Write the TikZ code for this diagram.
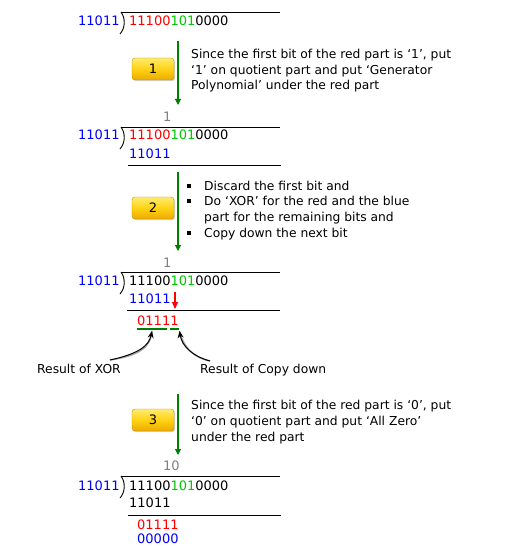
\documentclass[tikz,border=0pt]{standalone}
\usepackage{fontspec}
\setmainfont{DejaVu Sans}
\usetikzlibrary{arrows.meta,shadows}
\definecolor{bblue}{RGB}{0,0,255}
\definecolor{rred}{RGB}{255,0,0}
\definecolor{dgreen}{RGB}{0,200,0}
\definecolor{agreen}{RGB}{0,128,0}
\definecolor{qgray}{RGB}{128,128,128}
\definecolor{btop}{RGB}{255,236,110}
\definecolor{bmid}{RGB}{255,210,20}
\definecolor{bbot}{RGB}{235,170,0}
\definecolor{bborder}{RGB}{190,140,0}
\newcommand{\dvdA}{\textcolor{rred}{11100}\textcolor{dgreen}{101}0000}
\newcommand{\dvdB}{11100\textcolor{dgreen}{101}0000}
\newcommand{\sqbul}{\llap{\raisebox{2.5pt}{\rule{4pt}{4pt}}\hspace{13pt}}}
\begin{document}
\begin{tikzpicture}[x=1pt,y=-1pt,
  font=\fontsize{13}{15.6}\selectfont,
  num/.style={anchor=base west,inner sep=0pt},
  txt/.style={anchor=base west,inner sep=0pt,align=left,font=\fontsize{12.3}{15.6}\selectfont},
  rule/.style={line width=0.9pt},
  garrow/.style={agreen,line width=1.1pt,-{Triangle[width=6pt,length=6pt]}},
  rarrow/.style={rred,line width=1.1pt,-{Triangle[width=6pt,length=7pt]}},
  uline/.style={agreen,line width=1.1pt},
  carrow/.style={line width=1pt,-{Stealth[length=7pt,width=6pt]}},
  cshadow/.style={black!35,line width=1.5pt,shift={(1.5,1.5)}},
  btn/.style={draw=bborder,rounded corners=3pt,top color=btop,bottom color=bbot,
    middle color=bmid,minimum width=42pt,minimum height=22pt,inner sep=0pt,
    drop shadow={shadow xshift=1.2pt,shadow yshift=-1.2pt,opacity=0.35}},
  bracket/.style={line width=0.9pt}
]
\useasboundingbox (0,0) rectangle (530,548);

% ---------- Row 1
\node[num,text=bblue] (d1) at (78,26) {11011};
\node[num] (v1) at (129,26) {\dvdA};
\draw[rule] (121,12) -- (280,12);
\draw[bracket] (121,12) .. controls (125.5,18) and (125.5,28) .. (120,34);

% ---------- Step 1
\coordinate (g1s) at (178,41);
\coordinate (g1e) at (178,105);
\draw[garrow] (g1s) -- (g1e);
\node[btn] (b1) at (153,69) {1};
\node[txt] (t1) at (191,90) {Since the first bit of the red part is ‘1’, put\\‘1’ on quotient part and put ‘Generator\\Polynomial’ under the red part};

% ---------- Row 2
\node[num,text=qgray] (q2) at (163,122) {1};
\draw[rule] (121,127) -- (280,127);
\draw[bracket] (121,127) .. controls (125.5,133) and (125.5,143) .. (120,149);
\node[num,text=bblue] (d2) at (78,140) {11011};
\node[num] (v2) at (129,140) {\dvdA};
\node[num,text=bblue] (s2) at (129,158) {11011};
\draw[rule] (128,165) -- (281,165);

% ---------- Step 2
\coordinate (g2s) at (178,172);
\coordinate (g2e) at (178,251);
\draw[garrow] (g2s) -- (g2e);
\node[btn] (b2) at (153,208) {2};
\node[txt] (t2) at (204,237) {\sqbul Discard the first bit and\\
\sqbul Do ‘XOR’ for the red and the blue\\
part for the remaining bits and\\
\sqbul Copy down the next bit};

% ---------- Row 3
\node[num,text=qgray] (q3) at (163,267) {1};
\draw[rule] (121,272) -- (280,272);
\draw[bracket] (121,272) .. controls (125.5,278) and (125.5,288) .. (120,294);
\node[num,text=bblue] (d3) at (78,285) {11011};
\node[num] (v3) at (129,285) {\dvdB};
\node[num,text=bblue] (s3) at (129,303) {11011};
\coordinate (r1) at (175,292);
\coordinate (r2) at (175,309);
\draw[rarrow] (r1) -- (r2);
\draw[rule] (127,310) -- (280,310);
\node[num,text=rred] (x3) at (137,325) {01111};
\coordinate (u1a) at (137,329);
\coordinate (u1b) at (167,329);
\coordinate (u2a) at (170,329);
\coordinate (u2b) at (179,329);
\draw[uline] (u1a) -- (u1b);
\draw[uline] (u2a) -- (u2b);

\node[num,font=\fontsize{12.3}{15.6}\selectfont] (lx) at (37,373) {Result of XOR};
\node[num,font=\fontsize{12.3}{15.6}\selectfont] (lc) at (200,373) {Result of Copy down};
\coordinate (xs) at (110,360);
\coordinate (xe) at (152,331);
\coordinate (cs) at (210,361);
\coordinate (ce) at (179.5,331);
\draw[cshadow] (xs) .. controls (138,354) and (149,346) .. (xe);
\draw[cshadow] (cs) .. controls (192,356) and (182,346) .. (ce);
\draw[carrow] (xs) .. controls (138,354) and (149,346) .. (xe);
\draw[carrow] (cs) .. controls (192,356) and (182,346) .. (ce);

% ---------- Step 3
\coordinate (g3s) at (178,394);
\coordinate (g3e) at (178,455);
\draw[garrow] (g3s) -- (g3e);
\node[btn] (b3) at (153,420) {3};
\node[txt] (t3) at (191,441) {Since the first bit of the red part is ‘0’, put\\‘0’ on quotient part and put ‘All Zero’\\under the red part};

% ---------- Row 4
\node[num,text=qgray] (q4) at (163,470) {10};
\draw[rule] (121,476) -- (280,476);
\draw[bracket] (121,476) .. controls (125.5,482) and (125.5,492) .. (120,498);
\node[num,text=bblue] (d4) at (78,490) {11011};
\node[num] (v4) at (129,490) {\dvdB};
\node[num] (s4) at (129,507) {11011};
\draw[rule] (128,515) -- (281,515);
\node[num,text=rred] (x4) at (137,529) {01111};
\node[num,text=bblue] (z4) at (137,543) {00000};
\end{tikzpicture}
\end{document}
